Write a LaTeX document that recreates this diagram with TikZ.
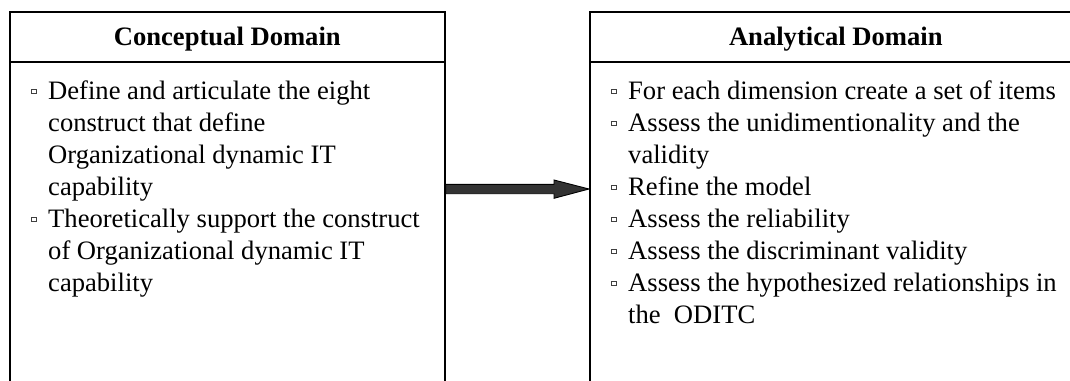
\documentclass[tikz,border=0pt]{standalone}
\usepackage{fontspec}
\setmainfont{Liberation Serif}
\usetikzlibrary{calc}
% small hollow square used as list bullet
\newcommand\sqbullet{\raisebox{6pt}{\fboxsep=0pt\fboxrule=0.9pt\color{black!75}\fbox{\hbox to 3.5pt{\vrule width 0pt height 3.5pt\hfil}}}}
\begin{document}
\begin{tikzpicture}[x=1pt,y=-1pt,
  domainbox/.style={draw=black, line width=1.6pt, rectangle, inner sep=0pt, anchor=north west},
  rule/.style={draw=black, line width=1.6pt},
  headtext/.style={font=\fontsize{26.6}{32}\selectfont\bfseries, anchor=base, inner sep=0pt},
  bodytext/.style={font=\fontsize{26.6}{32}\selectfont, anchor=base west, inner sep=0pt},
  blockarrow/.style={draw=black, line width=0.9pt, fill=black!80, line join=miter}]
\useasboundingbox (0,0) rectangle (1070,380);
\clip (0,0) rectangle (1070,380);

% the two domain frames (open towards the bottom)
\node[domainbox, minimum width=435pt, minimum height=420pt] (conc) at (9,11) {};
\node[domainbox, minimum width=492pt, minimum height=420pt] (anal) at (589,11) {};
\draw[rule] (conc.west |- 0,62) -- (conc.east |- 0,62);
\draw[rule] (anal.west |- 0,62) -- (anal.east |- 0,62);

% headings
\node[headtext] (hconc) at (conc.north |- 0,45) {Conceptual Domain};
\node[headtext] (hanal) at (anal.north |- 0,45) {Analytical Domain};

% bullet lists
\node[bodytext] (lconc) at (31,99) {\begin{tabular}[t]{@{}l@{\hspace{11.7pt}}l@{}}
\sqbullet & Define and articulate the eight\\
 & construct that define\\
 & Organizational dynamic IT\\
 & capability\\
\sqbullet & Theoretically support the construct\\
 & of Organizational dynamic IT\\
 & capability
\end{tabular}};
\node[bodytext] (lanal) at (611,99) {\begin{tabular}[t]{@{}l@{\hspace{11.7pt}}l@{}}
\sqbullet & For each dimension create a set of items\\
\sqbullet & Assess the unidimentionality and the\\
 & validity\\
\sqbullet & Refine the model\\
\sqbullet & Assess the reliability\\
\sqbullet & Assess the discriminant validity\\
\sqbullet & Assess the hypothesized relationships in\\
 & the\ \ ODITC
\end{tabular}};

% block arrow from the conceptual to the analytical domain
\coordinate (tail) at (conc.east |- 0,189);
\coordinate (tip) at (anal.west |- 0,189);
\draw[blockarrow] ($(tail)+(0,-4.7)$) -- ($(tip)+(-35,-4.7)$) -- ($(tip)+(-35,-9)$) -- (tip)
  -- ($(tip)+(-35,9.3)$) -- ($(tip)+(-35,4.7)$) -- ($(tail)+(0,4.7)$) -- cycle;
\end{tikzpicture}
\end{document}
